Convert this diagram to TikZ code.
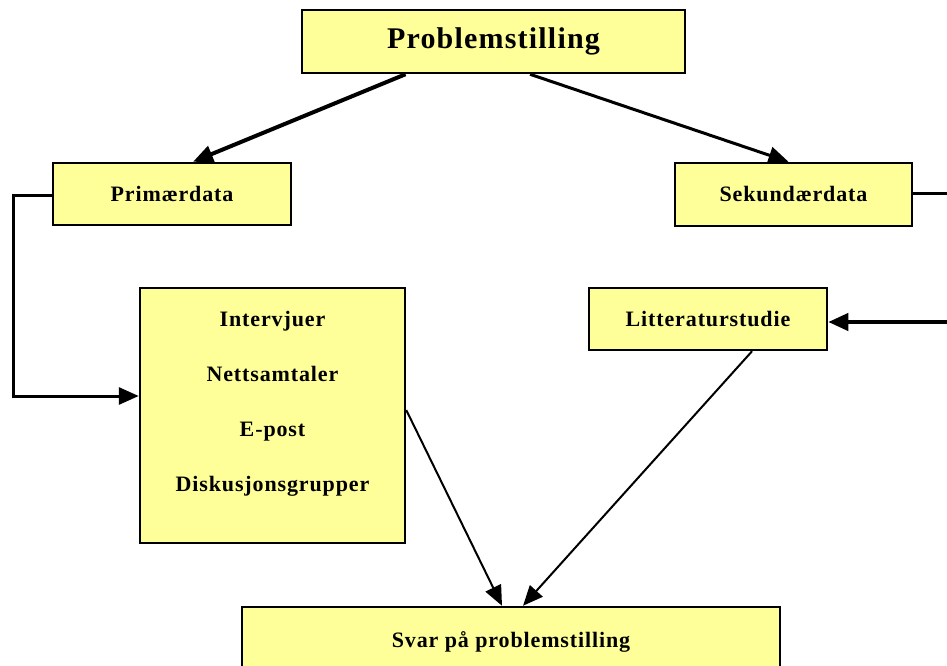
\documentclass[tikz,border=0pt]{standalone}
\usepackage{fontspec}
\setmainfont{Liberation Serif}
\newfontfamily\spacedserif[LetterSpace=4]{Liberation Serif}
\usetikzlibrary{arrows.meta,calc}

\tikzset{
  boks/.style={draw=black, line width=2.5pt, fill=boxyellow, inner sep=0pt,
               font=\spacedserif\bfseries\fontsize{22}{26}\selectfont},
  hode/.style={boks, font=\spacedserif\bfseries\fontsize{30}{34}\selectfont},
  pil/.style={line width=#1, -{Triangle[length=20pt,width=17pt]}},
  pil/.default=2pt,
  linje/.style={line width=3pt},
  tekst/.style={font=\spacedserif\bfseries\fontsize{22}{55}\selectfont, align=center, inner sep=0pt}
}
\definecolor{boxyellow}{HTML}{FFFF99}

\begin{document}
\begin{tikzpicture}[x=1pt, y=-1pt]
  \useasboundingbox (0,0) rectangle (947,666);
  \clip (0,0) rectangle (947,666);
  \fill[white] (0,0) rectangle (947,666);

  % boxes
  \node[hode, minimum width=383pt, minimum height=63pt] (prob) at (493.5,41.5) {\raisebox{-4pt}{Problemstilling}};
  \node[boks, minimum width=238pt, minimum height=62pt] (prim) at (172,194) {Primærdata};
  \node[boks, minimum width=237pt, minimum height=63pt] (sek) at (793.5,194.5) {Sekundærdata};
  \node[boks, minimum width=238pt, minimum height=62pt] (lit) at (708,319) {Litteraturstudie};
  \node[boks, minimum width=265pt, minimum height=255pt] (kanal) at (272.5,415.5) {};
  \node[tekst] (kanaltekst) at (272.5,404)
    {Intervjuer\\Nettsamtaler\\E-post\\Diskusjonsgrupper};
  \node[boks, minimum width=538pt, minimum height=86pt] (svar) at (511,650) {\raisebox{20pt}{Svar på problemstilling}};

  % free ends at the right margin
  \coordinate (sekut) at (947,193);
  \coordinate (litinn) at (947,322);
  \coordinate (venstre) at (13,0);

  % connectors
  \draw[pil=4pt] ($(prob.south)+(-88,0)$) -- ($(prim.north)+(21,0)$);
  \draw[pil=3pt] ($(prob.south)+(36.5,0)$) -- ($(sek.north)+(-5,0)$);
  \draw[linje] (sek.east |- sekut) -- (sekut);
  \draw[pil=4pt] (litinn) -- (litinn -| lit.east);
  \draw[pil=3pt] (prim.west |- 0,195) -| (venstre |- 0,300) |- (kanal.west |- 0,396);
  \draw[pil=2pt] (kanal.east |- 0,410) -- ($(svar.north)+(-9,0)$);
  \draw[pil=2pt] ($(lit.south)+(44,0)$) -- ($(svar.north)+(12,0)$);
\end{tikzpicture}
\end{document}
